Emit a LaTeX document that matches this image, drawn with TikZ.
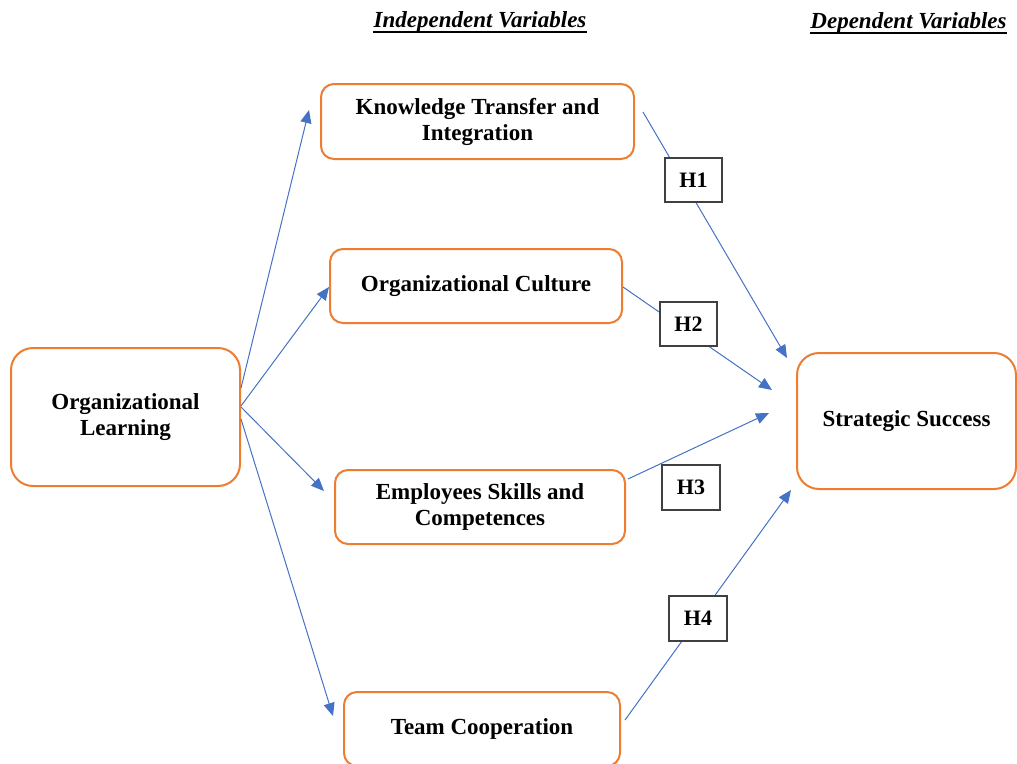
\documentclass[tikz,border=0pt]{standalone}
\usepackage{fontspec}
\setmainfont{Liberation Serif}
\usetikzlibrary{arrows.meta}
\definecolor{boxorange}{HTML}{ED7D31}
\definecolor{linkblue}{HTML}{4472C4}
\begin{document}
\begin{tikzpicture}[x=1pt,y=-1pt,
  varbox/.style={draw=boxorange, line width=2pt, rounded corners=13pt, fill=white,
    align=center, inner sep=0pt, font=\bfseries\fontsize{23}{26}\selectfont},
  bigbox/.style={varbox, rounded corners=22pt},
  hyp/.style={draw=black!75, line width=1.2pt, fill=white, inner sep=0pt,
    minimum width=57pt, minimum height=44pt, font=\bfseries\fontsize{22}{25}\selectfont},
  link/.style={draw=linkblue, line width=1pt, -{Triangle[length=13pt,width=11pt]}},
  head/.style={inner sep=0pt, anchor=base, font=\bfseries\itshape\fontsize{23}{26}\selectfont},
  headrule/.style={line width=2pt}
]
\useasboundingbox (0,0) rectangle (1017,763);

% column headings
\node[head] (ih) at (480,27) {Independent Variables};
\node[head] (dh) at (908.5,28) {Dependent Variables};
\draw[headrule] ([yshift=-4.5pt]ih.base west) -- ([yshift=-4.5pt]ih.base east);
\draw[headrule] ([yshift=-4.5pt]dh.base west) -- ([yshift=-4.5pt]dh.base east);

% variables
\node[bigbox, minimum width=229pt, minimum height=138pt] (ol) at (125.5,417) {Organizational\\Learning};
\node[varbox, minimum width=313pt, minimum height=75pt] (kt) at (477.5,121.5) {Knowledge Transfer and\\Integration};
\node[varbox, minimum width=292pt, minimum height=74pt] (oc) at (476,286) {Organizational Culture};
\node[varbox, minimum width=290pt, minimum height=74pt] (es) at (480,507) {Employees Skills and\\Competences};
\node[varbox, minimum width=276pt, minimum height=74pt] (tc) at (482,729) {Team Cooperation};
\node[bigbox, minimum width=219pt, minimum height=136pt] (ss) at (906.5,421) {Strategic Success};

% organizational learning feeds the independent variables
\draw[link] ([yshift=29pt]ol.east) -- ([xshift=-11pt,yshift=11.5pt]kt.west);
\draw[link] ([yshift=11pt]ol.east) -- ([yshift=-1pt]oc.west);
\draw[link] ([yshift=10pt]ol.east) -- ([xshift=-10pt,yshift=16pt]es.west);
\draw[link] ([yshift=-2pt]ol.east) -- ([xshift=-10pt,yshift=13pt]tc.west);

% hypotheses towards strategic success
\draw[link] ([xshift=8pt,yshift=9.5pt]kt.east) -- ([xshift=-9pt,yshift=63pt]ss.west);
\draw[link] ([yshift=-1pt]oc.east) -- ([xshift=-24pt,yshift=31pt]ss.west);
\draw[link] ([xshift=2pt,yshift=28pt]es.east) -- ([xshift=-27pt,yshift=8pt]ss.west);
\draw[link] ([xshift=4pt,yshift=9pt]tc.east) -- ([xshift=-5pt,yshift=-69pt]ss.west);

\node[hyp] (h1) at (693.5,180) {H1};
\node[hyp] (h2) at (688.5,324) {H2};
\node[hyp, minimum width=58pt, minimum height=45pt] (h3) at (691,487.5) {H3};
\node[hyp, minimum width=58pt, minimum height=45pt] (h4) at (698,618.5) {H4};
\end{tikzpicture}
\end{document}
